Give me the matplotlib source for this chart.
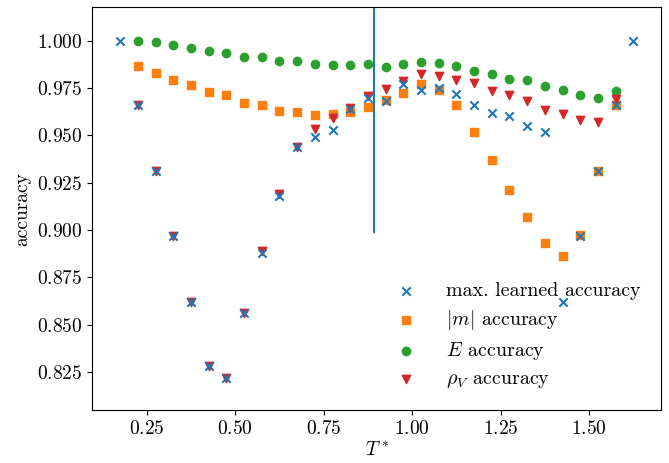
import numpy as np
import matplotlib
matplotlib.use("Agg")
import matplotlib.pyplot as plt

plt.rcParams['font.family'] = 'serif'
plt.rcParams['font.serif'] = ['cmr10', 'DejaVu Serif']
plt.rcParams['mathtext.fontset'] = 'cm'
plt.rcParams['axes.formatter.use_mathtext'] = True
plt.rcParams['font.size'] = 14

T_full = [0.175, 0.225, 0.275, 0.325, 0.375, 0.425, 0.475, 0.525, 0.575, 0.625,
          0.675, 0.725, 0.775, 0.825, 0.875, 0.925, 0.975, 1.025, 1.075, 1.125,
          1.175, 1.225, 1.275, 1.325, 1.375, 1.425, 1.475, 1.525, 1.575, 1.625]
max_learned = [1.000, 0.966, 0.931, 0.897, 0.862, 0.828, 0.822, 0.856, 0.888, 0.918,
               0.944, 0.949, 0.953, 0.964, 0.970, 0.968, 0.977, 0.974, 0.975, 0.972,
               0.966, 0.962, 0.960, 0.955, 0.952, 0.862, 0.897, 0.931, 0.966, 1.000]

T = T_full[1:-1]
m_acc = [0.9866, 0.9828, 0.9791, 0.9766, 0.9727, 0.9712, 0.9671, 0.9659, 0.9629,
         0.9623, 0.9607, 0.9614, 0.9623, 0.9651, 0.9685, 0.9725, 0.9771, 0.9738,
         0.9662, 0.9519, 0.9370, 0.9211, 0.9068, 0.8930, 0.8864, 0.8974, 0.9310, 0.9660]
E_acc = [0.9998, 0.9993, 0.9979, 0.9961, 0.9946, 0.9937, 0.9912, 0.9912, 0.9891,
         0.9894, 0.9877, 0.9872, 0.9870, 0.9879, 0.9863, 0.9877, 0.9886, 0.9881,
         0.9865, 0.9840, 0.9822, 0.9798, 0.9791, 0.9761, 0.9740, 0.9712, 0.9696, 0.9736]
rho_acc = [0.966, 0.931, 0.897, 0.862, 0.828, 0.822, 0.856, 0.889, 0.919,
           0.944, 0.9535, 0.9591, 0.9647, 0.9706, 0.9744, 0.9786, 0.9826, 0.9815,
           0.9795, 0.9775, 0.9736, 0.9712, 0.9681, 0.9632, 0.9613, 0.9583, 0.9570, 0.9692]

T_c = 0.891

fig = plt.figure(figsize=(6.69, 4.63), dpi=100)
ax = fig.add_axes([0.138, 0.1138, 0.850, 0.8711])

h1 = ax.scatter(T_full, max_learned, marker='x', color='C0', zorder=5,
                label='max. learned accuracy')
h2 = ax.scatter(T, m_acc, marker='s', color='C1', zorder=2, label=r'$|m|$ accuracy')
h3 = ax.scatter(T, E_acc, marker='o', color='C2', zorder=2, label=r'$E$ accuracy')
h4 = ax.scatter(T, rho_acc, marker='v', color='C3', zorder=3, label=r'$\rho_V$ accuracy')
ax.axvline(T_c, ymin=0.441, ymax=1.0, color='C0', lw=1.5)

ax.set_xlim(0.0963, 1.703)
ax.set_ylim(0.8048, 1.0178)
ax.set_xticks([0.25, 0.50, 0.75, 1.00, 1.25, 1.50])
ax.set_yticks([0.825, 0.850, 0.875, 0.900, 0.925, 0.950, 0.975, 1.000])
ax.set_xlabel(r'$T^*$', labelpad=2)
ax.set_ylabel('accuracy')
ax.legend(handles=[h1, h2, h3, h4], loc='lower right', frameon=False,
          scatterpoints=1, fontsize=14.4, handletextpad=1.0,
          labelspacing=0.4, borderaxespad=0.6)

fig.savefig('out.png', dpi=100)
